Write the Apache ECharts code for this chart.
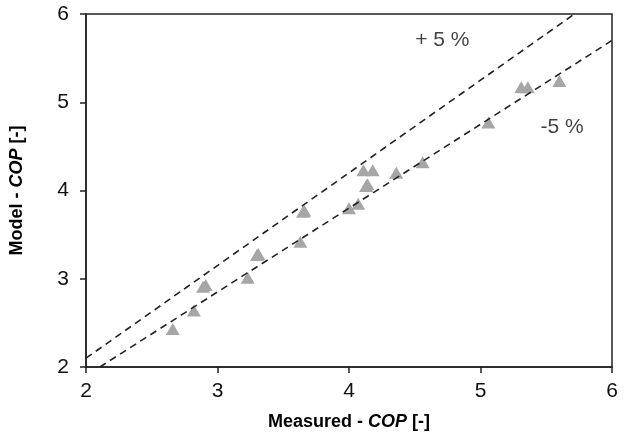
<!DOCTYPE html>
<html><head><meta charset="utf-8">
<script src="https://cdn.jsdelivr.net/npm/echarts@6/dist/echarts.min.js"></script>
<style>html,body{margin:0;padding:0;background:#fff}#c{width:625px;height:443px}</style>
</head><body><div id="c"></div>
<script>
var measured = [2.66, 2.82, 2.89, 2.91, 3.23, 3.30, 3.31, 3.63, 3.65, 3.66, 4.00, 4.07, 4.11, 4.18, 4.13, 4.14, 4.36, 4.56, 5.06, 5.31, 5.36, 5.60];
var model    = [2.43, 2.64, 2.91, 2.93, 3.01, 3.27, 3.28, 3.42, 3.76, 3.77, 3.80, 3.85, 4.23, 4.23, 4.05, 4.07, 4.20, 4.32, 4.77, 5.17, 5.17, 5.24];
var upperLine = [[2, 2.1], [6 / 1.05, 6]];
var lowerLine = [[2 / 0.95, 2], [6, 5.7]];
var annotations = [{text: '+ 5 %', x: 4.71, y: 5.70}, {text: '-5 %', x: 5.62, y: 4.72}];
var xTicks = [2, 3, 4, 5, 6];
var yTicks = [2, 3, 4, 5, 6];

var FONT = "'Liberation Sans Narrow', 'Liberation Sans', Arial, sans-serif";
var pts = measured.map(function (m, i) { return [m, model[i]]; });
var chart = echarts.init(document.getElementById('c'), null, {renderer: 'canvas'});
var nameRich = {
  b: {fontFamily: FONT, fontWeight: 'bold', fontSize: 18, color: '#000'},
  bi: {fontFamily: FONT, fontWeight: 'bold', fontStyle: 'italic', fontSize: 18, color: '#000'}
};
chart.setOption({
  animation: false,
  grid: {left: 86, right: 13, top: 14, bottom: 76, show: true, borderColor: '#222', borderWidth: 1.5, containLabel: false},
  xAxis: {
    type: 'value', min: xTicks[0], max: xTicks[xTicks.length - 1], interval: 1,
    name: '{b|Measured - }{bi|COP}{b| [-]}', nameLocation: 'middle', nameGap: 46,
    nameTextStyle: {rich: nameRich},
    axisLine: {show: true, lineStyle: {color: '#222', width: 1.5}},
    axisTick: {show: true, length: 6, lineStyle: {color: '#222', width: 1.5}},
    axisLabel: {fontFamily: FONT, fontSize: 21, color: '#111', margin: 14},
    splitLine: {show: false}
  },
  yAxis: {
    type: 'value', min: yTicks[0], max: yTicks[yTicks.length - 1], interval: 1,
    name: '{b|Model - }{bi|COP}{b| [-]}', nameLocation: 'middle', nameGap: 60, nameRotate: 90,
    nameTextStyle: {rich: nameRich},
    axisLine: {show: true, lineStyle: {color: '#222', width: 1.5}},
    axisTick: {show: true, length: 6, lineStyle: {color: '#222', width: 1.5}},
    axisLabel: {fontFamily: FONT, fontSize: 21, color: '#111', margin: 17},
    splitLine: {show: false}
  },
  series: [
    {type: 'line', data: upperLine, symbol: 'none', clip: true, silent: true,
     lineStyle: {color: '#222', width: 1.6, type: [7, 5]}},
    {type: 'line', data: lowerLine, symbol: 'none', clip: true, silent: true,
     lineStyle: {color: '#222', width: 1.6, type: [7, 5]}},
    {type: 'scatter', data: pts, symbol: 'triangle', symbolSize: [14, 12],
     itemStyle: {color: '#a6a6a6', opacity: 1}},
    {type: 'scatter', data: annotations.map(function (a) { return {value: [a.x, a.y], name: a.text}; }),
     symbolSize: 0, silent: true,
     label: {show: true, position: 'inside', formatter: '{b}', fontFamily: FONT, fontSize: 21, color: '#111'}}
  ]
});
</script></body></html>
